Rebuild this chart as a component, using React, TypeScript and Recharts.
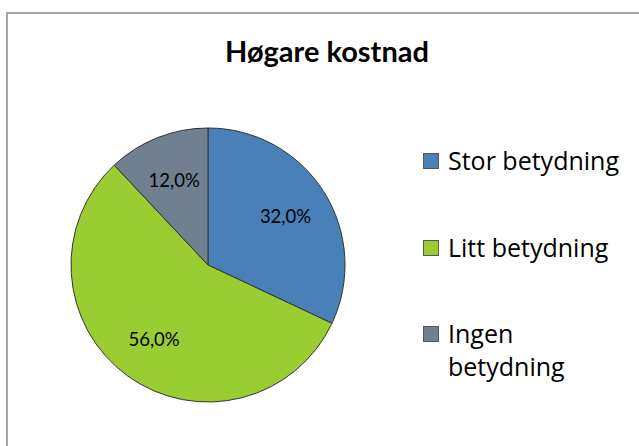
import React from 'react';
import { PieChart, Pie, Cell, Legend } from 'recharts';

const categories = ['Stor betydning', 'Litt betydning', 'Ingen betydning'];
const shares = [32, 56, 12];
const colors = ['#4A80B8', '#9ACD32', '#708090'];

const data = categories.map((name, i) => ({ name, value: shares[i] }));

const RAD = Math.PI / 180;

const renderLabel = (props: any) => {
  const { cx, cy, midAngle, outerRadius, value } = props;
  const r = outerRadius * 0.67;
  const x = cx + r * Math.cos(-midAngle * RAD);
  const y = cy + r * Math.sin(-midAngle * RAD);
  return (
    <text
      x={x}
      y={y}
      fill="#000"
      textAnchor="middle"
      dominantBaseline="central"
      fontSize={18.5}
      fontFamily="Lato, sans-serif"
    >
      {value.toFixed(1).replace('.', ',') + '%'}
    </text>
  );
};

// keep legend in category order
const LegendBox = (props: any) => {
  const items = [...(props.payload || [])].sort(
    (a: any, b: any) => categories.indexOf(a.value) - categories.indexOf(b.value)
  );
  return (
    <div style={{ fontFamily: '"Open Sans", sans-serif', fontSize: 25, color: '#000' }}>
      {items.map((entry: any, i: number) => (
        <div key={i} style={{ display: 'flex', alignItems: 'flex-start', height: 86.5 }}>
          <span
            style={{
              boxSizing: 'border-box',
              width: 16,
              height: 16,
              marginTop: 9,
              marginRight: 9,
              flex: 'none',
              background: entry.color,
              border: '1.5px solid #555',
            }}
          />
          <span style={{ width: 178, lineHeight: '33px' }}>{entry.value}</span>
        </div>
      ))}
    </div>
  );
};

export default function App() {
  return (
    <div style={{ position: 'absolute', left: 0, top: 0, width: 639, height: 446, background: '#fff', overflow: 'hidden' }}>
      <div
        style={{
          position: 'absolute',
          left: 6,
          top: 12,
          width: 640,
          height: 440,
          borderTop: '2px solid #A6A6A6',
          borderLeft: '2px solid #A6A6A6',
        }}
      />
      <div
        style={{
          position: 'absolute',
          left: 0,
          top: 34,
          width: 654,
          textAlign: 'center',
          fontFamily: 'Lato, sans-serif',
          fontWeight: 'bold',
          fontSize: 29,
          lineHeight: 1.2,
        }}
      >
        Høgare kostnad
      </div>
      <PieChart
        width={639}
        height={446}
        margin={{ top: 0, right: 0, bottom: 0, left: 0 }}
        style={{ position: 'absolute', left: 0, top: 0 }}
      >
        <Pie
          data={data}
          dataKey="value"
          nameKey="name"
          cx={208}
          cy={265}
          outerRadius={137}
          startAngle={90}
          endAngle={-270}
          stroke="#333"
          strokeWidth={1}
          label={renderLabel}
          labelLine={false}
          isAnimationActive={false}
        >
          {data.map((d, i) => (
            <Cell key={d.name} fill={colors[i]} />
          ))}
        </Pie>
        <Legend
          layout="vertical"
          content={<LegendBox />}
          wrapperStyle={{ position: 'absolute', left: 423, top: 144, width: 216 }}
        />
      </PieChart>
    </div>
  );
}
